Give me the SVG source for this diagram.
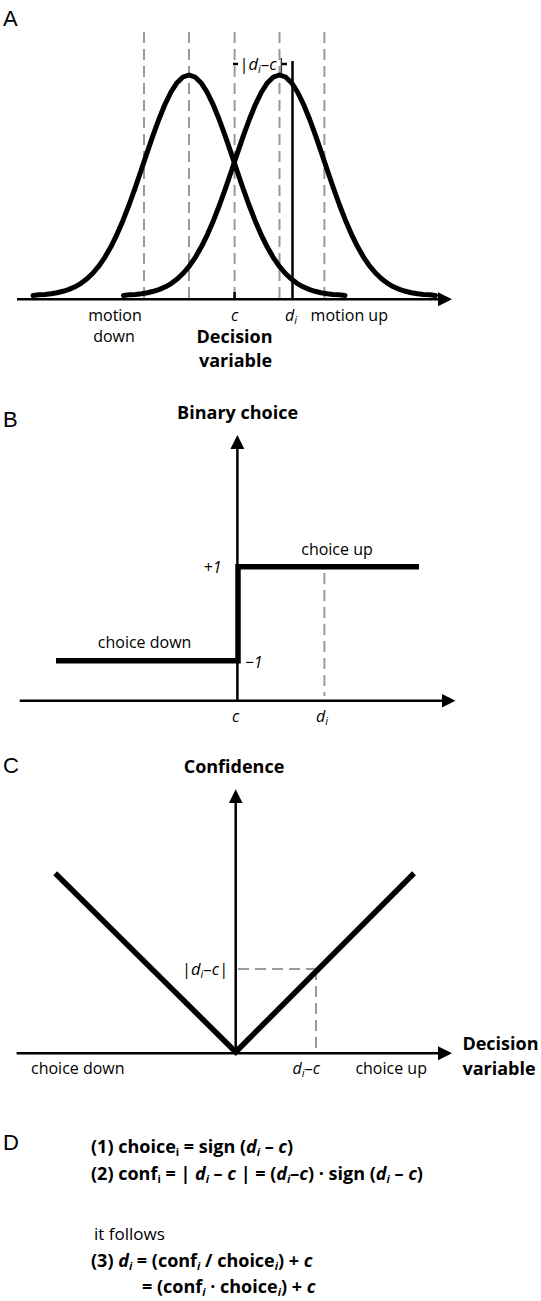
<svg xmlns="http://www.w3.org/2000/svg" xmlns:xlink="http://www.w3.org/1999/xlink" width="541" height="1301" viewBox="0 0 541 1301">
<style>
text{font-family:"Open Sans","Noto Sans","Liberation Sans",sans-serif;fill:#000}
.lbl{font-size:16px}
.b{font-size:18px;font-weight:bold}
.panel{font-family:"Liberation Sans",Arial,sans-serif;font-size:22px}
.it{font-style:italic}
.sub{font-size:11px}
.dash{stroke:#9a9a9a;stroke-width:2;stroke-dasharray:11 6;fill:none}
.axis{stroke:#000;stroke-width:2.5;fill:none}
.thick{stroke:#000;stroke-width:5.5;fill:none}
.curve{stroke:#000;stroke-width:5;fill:none;stroke-linejoin:round;stroke-linecap:round}
</style>
<defs>
<marker id="arr" markerUnits="userSpaceOnUse" markerWidth="15" markerHeight="15" refX="10" refY="7" orient="auto">
<path d="M0,0 L14,7 L0,14 z" fill="#000"/>
</marker>
<polyline id="gauss" class="curve" points="-156,295.5 -150,294.85 -144,294.4 -138,293.7 -132,292.7 -126,291.3 -120,289.4 -114,286.8 -108,283.3 -102,278.8 -96,273 -90,265.8 -84,257.05 -78,246.6 -72,234.3 -66,220.4 -60,205 -54,188.3 -48,170.8 -42,152.9 -36,135.4 -30,119 -24,104.3 -18,92 -12,82.7 -6,77 0,75 6,77 12,82.7 18,92 24,104.3 30,119 36,135.4 42,152.9 48,170.8 54,188.3 60,205 66,220.4 72,234.3 78,246.6 84,257.05 90,265.8 96,273 102,278.8 108,283.3 114,286.8 120,289.4 126,291.3 132,292.7 138,293.7 144,294.4 150,294.85 156,295.5"/>
</defs>

<g id="panel-A">
<text class="panel" x="3" y="26">A</text>
<g id="A-dashed">
<line class="dash" x1="144" y1="32" x2="144" y2="299"/>
<line class="dash" x1="189" y1="32" x2="189" y2="299"/>
<line class="dash" x1="234.6" y1="32" x2="234.6" y2="299"/>
<line class="dash" x1="279.5" y1="32" x2="279.5" y2="299"/>
<line class="dash" x1="324.4" y1="32" x2="324.4" y2="299"/>
</g>
<use xlink:href="#gauss" x="189"/>
<use xlink:href="#gauss" x="279.5"/>
<line class="axis" x1="17" y1="299.3" x2="448" y2="299.3" marker-end="url(#arr)"/>
<line class="axis" x1="234.6" y1="292" x2="234.6" y2="299.3"/>
<line class="axis" x1="292.5" y1="61" x2="292.5" y2="299.3"/>
<line class="axis" x1="233" y1="64" x2="238" y2="64"/>
<line class="axis" x1="282" y1="64" x2="287" y2="64"/>
<text class="lbl" x="239.5" y="70" style="font-size:16.5px">|<tspan class="it">d</tspan><tspan class="it sub" dy="3">i</tspan><tspan dy="-3">–</tspan><tspan class="it">c</tspan>|</text>
<text class="lbl" x="115" y="321" text-anchor="middle">motion</text>
<text class="lbl" x="114" y="342" text-anchor="middle">down</text>
<text class="lbl it" x="234.6" y="321" text-anchor="middle">c</text>
<text class="lbl" x="285" y="321"><tspan class="it">d</tspan><tspan class="it sub" dy="3">i</tspan></text>
<text class="lbl" x="310.6" y="321">motion up</text>
<text class="b" x="234.5" y="343" text-anchor="middle">Decision</text>
<text class="b" x="235.5" y="367" text-anchor="middle">variable</text>
</g>

<g id="panel-B">
<text class="panel" x="3" y="427">B</text>
<text class="b" x="237.6" y="419" text-anchor="middle">Binary choice</text>
<line class="axis" x1="237.4" y1="700.7" x2="237.4" y2="439" marker-end="url(#arr)"/>
<line class="axis" x1="19.7" y1="700.7" x2="451.5" y2="700.7" marker-end="url(#arr)"/>
<path class="thick" d="M56,660.7 H238 V566.7 H419"/>
<line class="dash" x1="324.4" y1="573" x2="324.4" y2="696"/>
<text class="lbl it" x="221.5" y="573" text-anchor="end">+1</text>
<text class="lbl it" x="245" y="668">−1</text>
<text class="lbl" x="337" y="555" text-anchor="middle">choice up</text>
<text class="lbl" x="144.6" y="648" text-anchor="middle">choice down</text>
<text class="lbl it" x="235.5" y="722" text-anchor="middle">c</text>
<text class="lbl" x="316" y="722"><tspan class="it">d</tspan><tspan class="it sub" dy="3">i</tspan></text>
</g>

<g id="panel-C">
<text class="panel" x="3" y="773">C</text>
<text class="b" x="234" y="772.7" text-anchor="middle">Confidence</text>
<line class="dash" x1="238" y1="969" x2="316" y2="969"/>
<line class="dash" x1="316" y1="969" x2="316" y2="1053"/>
<line class="axis" x1="235.7" y1="1053.3" x2="235.7" y2="793.3" marker-end="url(#arr)"/>
<line class="axis" x1="16.6" y1="1053.3" x2="448" y2="1053.3" marker-end="url(#arr)"/>
<polyline class="thick" points="55.2,873.3 235.7,1052 414,873.3"/>
<text class="lbl" x="182" y="975" style="font-size:16.5px">|<tspan class="it">d</tspan><tspan class="it sub" dy="3">i</tspan><tspan dy="-3">–</tspan><tspan class="it">c</tspan>|</text>
<text class="b" x="462.4" y="1050">Decision</text>
<text class="b" x="462.4" y="1075">variable</text>
<text class="lbl" x="31" y="1074">choice down</text>
<text class="lbl" x="292.6" y="1074"><tspan class="it">d</tspan><tspan class="it sub" dy="3">i</tspan><tspan dy="-3">–</tspan><tspan class="it">c</tspan></text>
<text class="lbl" x="355.4" y="1074">choice up</text>
</g>

<g id="panel-D">
<text class="panel" x="3" y="1150">D</text>
<text class="b" x="91" y="1153">(1) choice<tspan class="sub" dy="3">i</tspan><tspan dy="-3"> = sign (</tspan><tspan class="it">d</tspan><tspan class="it sub" dy="3">i</tspan><tspan dy="-3"> – </tspan><tspan class="it">c</tspan>)</text>
<text class="b" x="91" y="1180">(2) conf<tspan class="sub" dy="3">i</tspan><tspan dy="-3"> = | </tspan><tspan class="it">d</tspan><tspan class="it sub" dy="3">i</tspan><tspan dy="-3"> – </tspan><tspan class="it">c</tspan> | = (<tspan class="it">d</tspan><tspan class="it sub" dy="3">i</tspan><tspan dy="-3">–</tspan><tspan class="it">c</tspan>) · sign (<tspan class="it">d</tspan><tspan class="it sub" dy="3">i</tspan><tspan dy="-3"> – </tspan><tspan class="it">c</tspan>)</text>
<text class="lbl" x="94" y="1240" style="font-size:17px">it follows</text>
<text class="b" x="91" y="1267">(3) <tspan class="it">d</tspan><tspan class="it sub" dy="3">i</tspan><tspan dy="-3"> = (conf</tspan><tspan class="it sub" dy="3">i</tspan><tspan dy="-3">  / choice</tspan><tspan class="it sub" dy="3">i</tspan><tspan dy="-3">) + </tspan><tspan class="it">c</tspan></text>
<text class="b" x="142" y="1293">= (conf<tspan class="it sub" dy="3">i</tspan><tspan dy="-3"> · choice</tspan><tspan class="it sub" dy="3">i</tspan><tspan dy="-3">) + </tspan><tspan class="it">c</tspan></text>
</g>
</svg>
